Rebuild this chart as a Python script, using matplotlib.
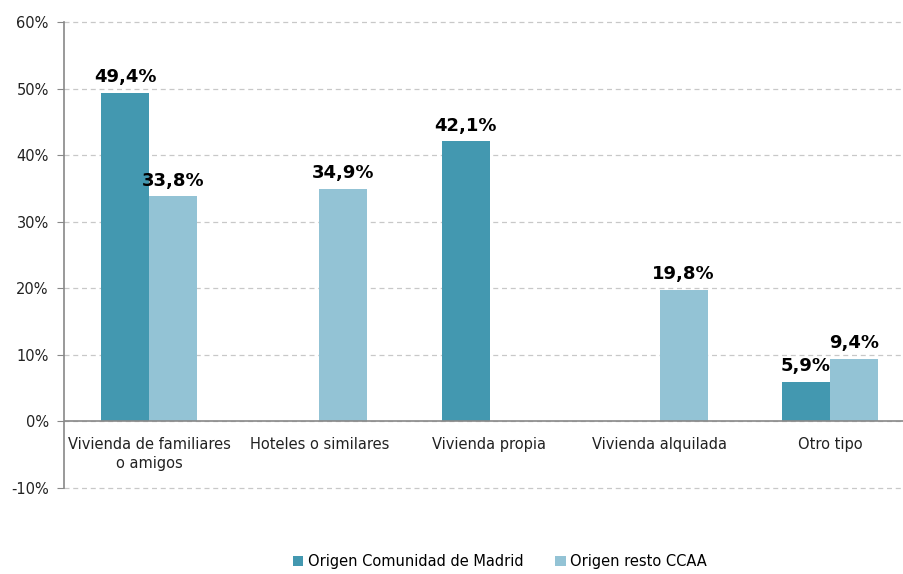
import matplotlib
matplotlib.use("Agg")
import matplotlib.pyplot as plt
import numpy as np

categories = ["Vivienda de familiares\no amigos", "Hoteles o similares", "Vivienda propia",
              "Vivienda alquilada", "Otro tipo"]
madrid = [49.4, np.nan, 42.1, np.nan, 5.9]
resto = [33.8, 34.9, np.nan, 19.8, 9.4]
series_names = ["Origen Comunidad de Madrid", "Origen resto CCAA"]
yticks = [-10, 0, 10, 20, 30, 40, 50, 60]

c_dark = "#4398B0"
c_light = "#93C3D5"

plt.rcParams['font.family'] = ['DejaVu Sans']
fig = plt.figure(figsize=(9.04, 5.74), dpi=100)
ax = fig.add_axes([64/904, 1-488/574, (915-64)/904, (488-22)/574])

x = np.arange(len(categories))
w = 0.282

def fmt(v):
    return f"{v:.1f}%".replace(".", ",")

for vals, off, col, name in [(madrid, -w/2, c_dark, series_names[0]), (resto, w/2, c_light, series_names[1])]:
    for xi, v in zip(x, vals):
        if np.isnan(v):
            continue
        ax.bar(xi + off, v, w, color=col, zorder=2)
        ax.text(xi + off, v + 1.0, fmt(v), ha="center", va="bottom", fontsize=13,
                fontweight="bold", color="black")
    ax.bar([np.nan], [0], w, color=col, label=name)

ax.set_xlim(-0.5, len(categories) - 0.5)
ax.set_ylim(-10, 60)
ax.set_yticks(yticks)
ax.set_yticklabels([f"{t}%" for t in yticks], fontsize=10.5, color="#222222")
ax.yaxis.grid(True, linestyle=(0, (4, 3)), color="#C8C8C8", linewidth=0.9, zorder=0)
for gl in ax.get_ygridlines():
    gl.set_clip_on(False)
ax.set_axisbelow(True)
ax.axhline(0, color="#888888", linewidth=1.2, zorder=3)

for s in ["top", "right", "bottom"]:
    ax.spines[s].set_visible(False)
ax.spines["left"].set_color("#888888")
ax.spines["left"].set_linewidth(1.2)
ax.tick_params(axis="y", length=5, color="#888888", pad=6)
ax.tick_params(axis="x", length=0)
ax.set_xticks([])

for xi, c in zip(x, categories):
    ax.text(xi, -2.3, c, ha="center", va="top", fontsize=10.5, color="#222222",
            linespacing=1.35)

fig.legend(loc="lower center", bbox_to_anchor=(0.553, -0.014), ncol=2, frameon=False,
           fontsize=10.5, handlelength=0.7, handleheight=0.7, handletextpad=0.3,
           columnspacing=2.2)

fig.savefig("out.png", dpi=100)
